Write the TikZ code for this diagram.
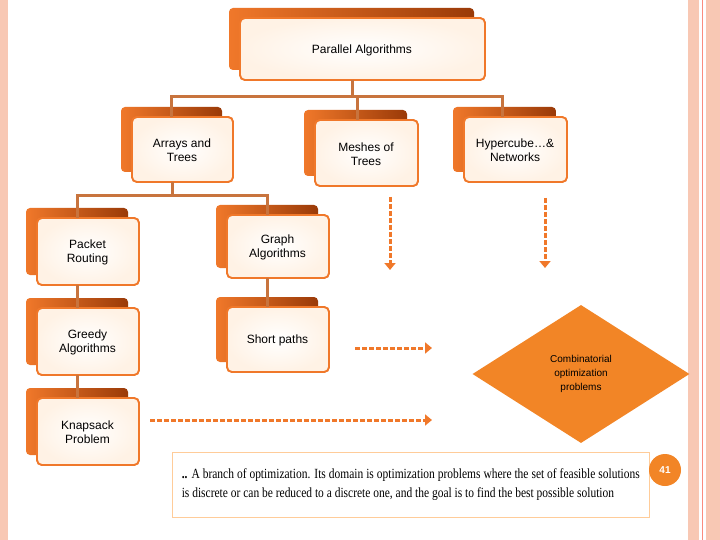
\documentclass[tikz,border=0pt]{standalone}
\usepackage{fontspec}
\setmainfont{Liberation Sans}
\newfontfamily\serifx[FakeStretch=0.82]{Liberation Serif}
\usetikzlibrary{shapes.geometric,arrows.meta}
\definecolor{org}{HTML}{F0782A}
\definecolor{brn}{HTML}{9A3A08}
\definecolor{lnk}{HTML}{C8743E}
\definecolor{pinkb}{HTML}{F8C8B4}
\tikzset{
  back/.style={rounded corners=4pt, left color=org, right color=brn},
  front/.style={rounded corners=5pt, draw=org, line width=1.8pt, inner color=white, outer color=orange!10},
  lbl/.style={font=\fontsize{12}{14}\selectfont, align=center, text=black},
  link/.style={draw=lnk, line width=3pt},
  darr/.style={draw=org, line width=3pt, dash pattern=on 5pt off 2pt, -{Triangle[length=7pt,width=11pt]}}
}
\begin{document}
\begin{tikzpicture}[x=1pt,y=-1pt]
\useasboundingbox (0,0) rectangle (720,540);
\fill[white] (0,0) rectangle (720,540);
\fill[pinkb] (0,0) rectangle (8,540);
\fill[pinkb] (688,0) rectangle (699,540);
\fill[pinkb] (706,0) rectangle (720,540);
\draw[pinkb!70!red, line width=0.6pt] (702,0) -- (702,540);
\def\bx#1#2#3#4#5#6{%
  \shade[back] (#2,#3) rectangle (#4-11,#5-10);
  \shade[front] (#2+11,#3+10) rectangle (#4,#5);
  \draw[front, fill=none] (#2+11,#3+10) rectangle (#4,#5);
  \coordinate (#1n) at ({(#2+11+#4)/2},#3+10);
  \coordinate (#1s) at ({(#2+11+#4)/2},#5);
  \node[lbl] (#1) at ({(#2+#4)/2+5},{(#3+#5)/2+6}) {#6};}
\bx{pa}{229}{8}{485}{80}{Parallel Algorithms}
\bx{ar}{121}{107}{233}{182}{Arrays and\\Trees}
\bx{me}{304}{110}{418}{186}{Meshes of\\Trees}
\bx{hy}{453}{107}{567}{182}{Hypercube\dots\&\\Networks}
\bx{pk}{26}{208}{139}{285}{Packet\\Routing}
\bx{gr}{216}{205}{329}{278}{Graph\\Algorithms}
\bx{gd}{26}{298}{139}{375}{Greedy\\Algorithms}
\bx{sp}{216}{297}{329}{372}{Short paths}
\bx{kn}{26}{388}{139}{465}{Knapsack\\Problem}
% connectors
\coordinate (j1) at (352,97);
\draw[link] (pas -| j1) -- (j1);
\draw[link] (arn -| 171,0) |- (j1) -| (hyn -| 502,0);
\draw[link] (j1) -| (men -| 357,0);
\coordinate (j2) at (172,196);
\draw[link] (ars -| j2) -- (j2);
\draw[link] (pkn -| 77,0) |- (j2) -| (grn -| 267,0);
\draw[link] (pks -| 77,0) -- (gdn -| 77,0);
\draw[link] (gds -| 77,0) -- (knn -| 77,0);
\draw[link] (grs -| 267,0) -- (spn -| 267,0);
% diamond
\node[diamond, fill=org!90!yellow, minimum width=217, minimum height=138, inner sep=0, font=\fontsize{10}{14}\selectfont, align=center] (co) at (581,374) {Combinatorial\\optimization\\problems};
% dashed arrows
\coordinate (a1) at (390,270); \coordinate (a2) at (545,268);
\coordinate (a3) at (432,348); \coordinate (a4) at (432,420);
\draw[darr] (390,197) -- (a1);
\draw[darr] (545,198) -- (a2);
\draw[darr] (355,348) -- (a3);
\draw[darr] (150,420) -- (a4);
% text box
\node[draw=orange!40, line width=0.6pt, anchor=north west, minimum width=477, minimum height=65, inner sep=0] (tb) at (172,452) {};
\node[font=\serifx\fontsize{14}{19.5}\selectfont, align=justify, text width=458, anchor=center, inner sep=0] (tt) at (tb.center) {\textbf{..} A branch of optimization. Its domain is optimization problems where the set of feasible solutions is discrete or can be reduced to a discrete one, and the goal is to find the best possible solution};
\node[circle, fill=org!90!yellow, minimum size=32, inner sep=0, text=white, font=\bfseries\fontsize{10}{11}\selectfont] (pg) at (665,470) {41};
\end{tikzpicture}
\end{document}
